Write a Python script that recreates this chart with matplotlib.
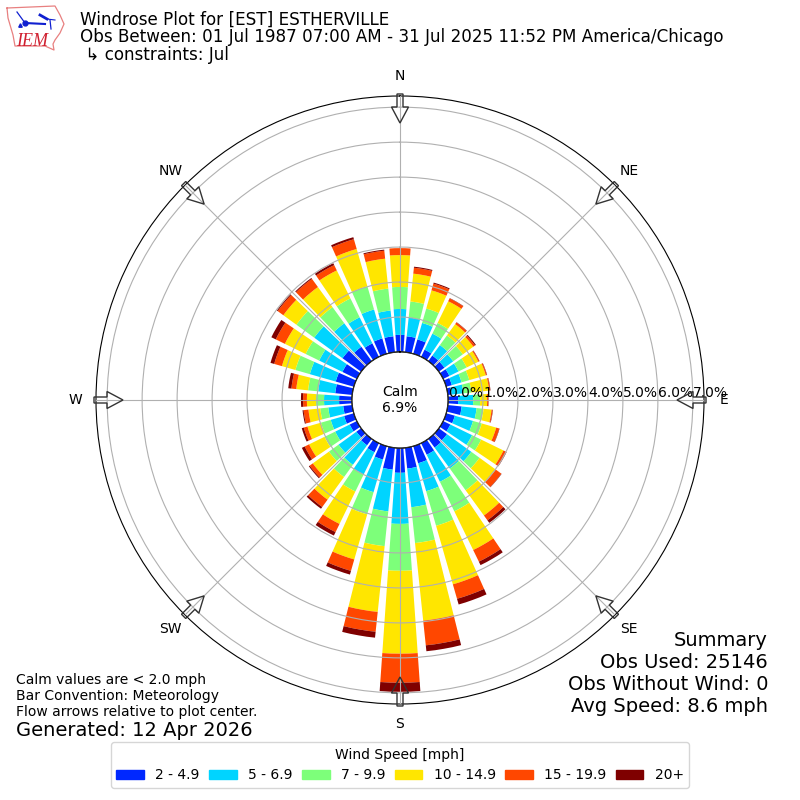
import numpy as np
import matplotlib
matplotlib.use("Agg")
import matplotlib.pyplot as plt
from matplotlib.patches import FancyArrow, Patch

# percent of observations per direction bin, 10 deg .. 360 deg
directions = np.arange(10, 370, 10)
speed_2_5 = [.46, .43, .23, .20, .20, .20, .17, .11, .29, .40, .26, .23, .29, .31, .37, .51, .60, .71,
             .63, .40, .29, .23, .17, .23, .29, .26, .37, .49, .54, .46, .66, .51, .43, .46, .46, .49]
speed_5_7 = [.54, .49, .51, .37, .31, .29, .29, .34, .43, .43, .54, .69, .86, .74, .86, .83, 1.11, 1.46,
             1.20, .97, .71, .69, .63, .46, .40, .43, .43, .49, .77, .74, 1.00, .83, .83, .86, .74, .74]
speed_7_10 = [.46, .43, .34, .34, .34, .26, .23, .23, .20, .20, .26, .29, .29, .77, .94, 1.03, 1.03, 1.34,
              1.00, .66, .54, .43, .34, .34, .29, .23, .23, .29, .43, .43, .63, .57, .60, .69, .63, .63]
speed_10_15 = [.80, .54, .69, .40, .37, .37, .49, .51, .20, .23, .43, .71, .57, .89, 1.23, 1.74, 2.23, 2.37,
               1.89, 1.34, 1.03, .80, .57, .49, .40, .34, .26, .34, .40, .66, .46, .71, .89, 1.11, .86, .91]
speed_15_20 = [.17, .20, .09, .06, .06, .03, .03, .03, .03, .03, .09, .09, .20, .17, .37, .43, .71, .83,
               .57, .34, .26, .26, .11, .14, .11, .14, .11, .14, .23, .29, .20, .29, .17, .29, .23, .20]
speed_20_up = [.03, .03, .01, .01, .03, .01, .01, .01, .01, .01, .01, .01, .01, .09, .11, .17, .17, .26,
               .17, .11, .11, .06, .03, .09, .06, .03, .06, .09, .11, .14, .03, .03, .06, .06, .03, .00]
speed_bins = [speed_2_5, speed_5_7, speed_7_10, speed_10_15, speed_15_20, speed_20_up]
speed_labels = ["2 - 4.9", "5 - 6.9", "7 - 9.9", "10 - 14.9", "15 - 19.9", "20+"]
speed_colors = ["#0028ff", "#00d4ff", "#7dff7a", "#ffe600", "#ff4700", "#7f0000"]
ring_values = [0, 1, 2, 3, 4, 5, 6, 7]
compass = ["N", "NE", "E", "SE", "S", "SW", "W", "NW"]

fig = plt.figure(figsize=(8, 8), dpi=100)
ax = fig.add_axes([96 / 800, 96 / 800, 608 / 800, 608 / 800], projection="polar")
ax.set_theta_zero_location("N")
ax.set_theta_direction(-1)

theta = np.deg2rad(directions)
bottom = np.zeros(len(directions))
for vals, color in zip(speed_bins, speed_colors):
    ax.bar(theta, vals, width=np.deg2rad(8), bottom=bottom, color=color, linewidth=0, zorder=2)
    bottom += np.array(vals)

ax.set_axisbelow(False)
ax.set_rorigin(-48 / 35)
ax.set_rmax(7.314)
ax.set_rmin(0)
ax.set_thetagrids(np.arange(0, 360, 45), compass)
ax.set_rgrids(ring_values, [f"{v:.1f}%" for v in ring_values], angle=90, fontsize=10)
ax.grid(True, color="#b0b0b0", linewidth=0.8)
for lbl in ax.yaxis.get_ticklabels():
    lbl.set_ha("left")
    lbl.set_va("bottom")
ax.tick_params(axis="x", pad=4, labelsize=10)
ax.plot(np.linspace(0, 2 * np.pi, 200), np.zeros(200), color="black", lw=1, zorder=5)

# flow arrows, pointing at the plot center
for deg in np.arange(0, 360, 45):
    a = np.deg2rad(deg)
    ux, uy = np.sin(a), np.cos(a)
    fig.add_artist(FancyArrow(0.5 + ux * 306 / 800, 0.5 + uy * 306 / 800, -ux * 29 / 800, -uy * 29 / 800,
                              width=6 / 800, head_width=17 / 800, head_length=16 / 800,
                              length_includes_head=True, fill=False,
                              edgecolor="#333333", linewidth=1, transform=fig.transFigure, zorder=6))

fig.text(0.5, 0.5, "Calm\n6.9%", ha="center", va="center", fontsize=10)

fig.text(80 / 800, 1 - 20 / 800, "Windrose Plot for [EST] ESTHERVILLE", fontsize=12.05, va="center")
fig.text(80 / 800, 1 - 37 / 800, "Obs Between: 01 Jul 1987 07:00 AM - 31 Jul 2025 11:52 PM America/Chicago",
         fontsize=12.05, va="center")
fig.text(80 / 800, 1 - 55 / 800, " \u21b3 constraints: Jul", fontsize=12.05, va="center")

fig.text(16 / 800, 1 - 680 / 800, "Calm values are < 2.0 mph", fontsize=10, va="center")
fig.text(16 / 800, 1 - 696 / 800, "Bar Convention: Meteorology", fontsize=10, va="center")
fig.text(16 / 800, 1 - 712 / 800, "Flow arrows relative to plot center.", fontsize=10, va="center")
fig.text(16 / 800, 1 - 730 / 800, "Generated: 12 Apr 2026", fontsize=14, va="center")

for y, txt in zip([640, 662, 684, 706],
                  ["Summary", "Obs Used: 25146", "Obs Without Wind: 0", "Avg Speed: 8.6 mph"]):
    fig.text(768 / 800, 1 - y / 800, txt, fontsize=14, ha="right", va="center")

handles = [Patch(color=c, label=l) for c, l in zip(speed_colors, speed_labels)]
fig.legend(handles=handles, title="Wind Speed [mph]", ncol=6, fontsize=10, title_fontsize=10,
           loc="center", bbox_to_anchor=(0.5, 1 - 765 / 800),
           handlelength=2, handletextpad=0.8, columnspacing=0.68)

# IEM logo, rough state outline (axes in pixels of the picture)
logo = fig.add_axes([0, 1 - 55 / 800, 75 / 800, 55 / 800])
logo.set_xlim(0, 75)
logo.set_ylim(55, 0)
logo.axis("off")
logo.plot([7, 55, 60, 64, 60, 55, 53, 54, 45, 15, 13, 8, 7], [8, 6, 15, 24, 33, 40, 44, 50, 46, 46, 35, 18, 8],
          color="#e88080", lw=0.9)
logo.plot([25, 45], [23, 24], color="#1020d0", lw=1.5)
logo.plot([25, 17], [23, 12], color="#1020d0", lw=0.9)
logo.plot([25], [23], "o", color="#1020d0", ms=3.5)
logo.plot([20], [25], "^", color="#1020d0", ms=2.5)
logo.plot([40, 47], [15, 19], color="#1020d0", lw=2)
logo.plot([47, 55], [19, 20], color="#1020d0", lw=0.8)
logo.plot([50, 51], [20, 29], color="#1020d0", lw=0.9)
logo.text(16, 45.5, "IEM", color="#d02030", fontsize=13, family="Liberation Serif", style="italic")

fig.savefig("out.png", dpi=100)
